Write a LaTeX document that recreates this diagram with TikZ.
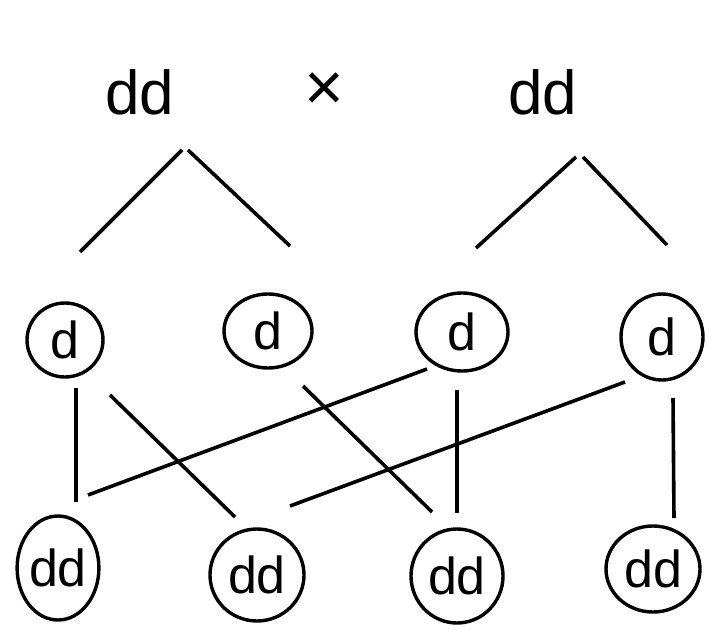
\documentclass[tikz,border=0pt]{standalone}
\usepackage{fontspec}
\setmainfont{Liberation Sans}
\usetikzlibrary{shapes.geometric,calc}

\begin{document}
\begin{tikzpicture}[x=1pt,y=-1pt,
    cell/.style={draw, ellipse, line width=3.4pt, inner sep=0pt, font=\fontsize{52}{54}\selectfont},
    lbl/.style={inner sep=0pt, font=\fontsize{62}{64}\selectfont},
    link/.style={line width=3.6pt}]
        \useasboundingbox (0,0) rectangle (709,631);

        % Parents
        \node[lbl] (p1) at (140,92) {dd};
        \node[lbl, font=\fontsize{68}{70}\selectfont] (cross) at (324,92) {×};
        \node[lbl] (p2) at (543,92) {dd};

        % Gametes
        \node[cell, minimum width=76, minimum height=74] (g1) at (65,340) {d};
        \node[cell, minimum width=88, minimum height=74] (g2) at (268,331) {d};
        \node[cell, minimum width=92, minimum height=78] (g3) at (462,332) {d};
        \node[cell, minimum width=82, minimum height=86] (g4) at (662,337) {d};

        % Offspring
        \node[cell, minimum width=80, minimum height=104] (o1) at (58,568) {dd};
        \node[cell, minimum width=94, minimum height=92] (o2) at (257,575) {dd};
        \node[cell, minimum width=92, minimum height=94] (o3) at (457,576) {dd};
        \node[cell, minimum width=94, minimum height=86] (o4) at (653,569) {dd};

        % Parent to gamete
        \draw[link] ($(p1)+(42,58)$) -- ($(g1)+(15,-88)$);
        \draw[link] ($(p1)+(48,58)$) -- ($(g2)+(22,-85)$);
        \draw[link] ($(p2)+(33,65)$) -- ($(g3)+(14,-84)$);
        \draw[link] ($(p2)+(40,65)$) -- ($(g4)+(5,-92)$);

        % Gamete to offspring
        \draw[link] ($(g1)+(11,48)$) -- ($(o1)+(18,-66)$);
        \draw[link] ($(g1)+(45,55)$) -- ($(o2)+(-22,-58)$);
        \draw[link] ($(g3)+(-35,37)$) -- ($(o1)+(30,-73)$);
        \draw[link] ($(g2)+(35,55)$) -- ($(o3)+(-25,-64)$);
        \draw[link] ($(g3)+(-5,58)$) -- ($(o3)+(0,-63)$);
        \draw[link] ($(g4)+(-37,45)$) -- ($(o2)+(33,-69)$);
        \draw[link] ($(g4)+(11,61)$) -- ($(o4)+(21,-51)$);
\end{tikzpicture}
\end{document}
